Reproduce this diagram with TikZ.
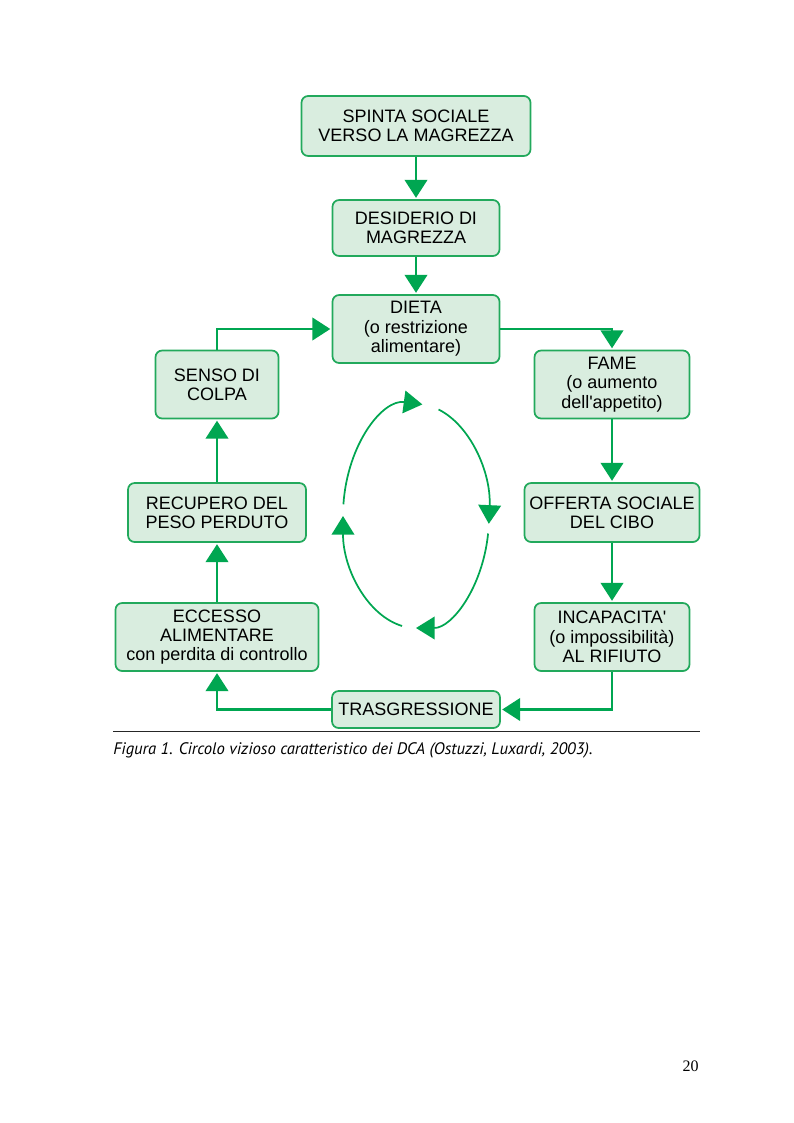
\documentclass[tikz,border=0pt]{standalone}
\usepackage{fontspec}
\setmainfont{Liberation Sans}
\newfontfamily\capfont{PT Sans}
\newfontfamily\numfont{Liberation Serif}
\usetikzlibrary{arrows.meta}
\definecolor{dcagreen}{HTML}{00A651}
\definecolor{dcafill}{HTML}{D9EDDF}
\definecolor{dcaline}{HTML}{22A95C}
\tikzset{
  dcabox/.style={draw=dcaline, fill=dcafill, line width=1.3pt, rounded corners=5pt,
    align=center, inner sep=1pt, font=\fontsize{13.5}{14.5}\selectfont},
  flow/.style={draw=dcagreen, line width=1.6pt, -{Triangle[length=13.5pt,width=17pt]}, shorten >=1pt},
  cyclearc/.style={draw=dcagreen, line width=1.3pt, -{Triangle[length=14pt,width=17pt]}}
}
\newcommand{\boxnode}[6]{\node[dcabox, minimum width={#4*0.75pt}, minimum height={#5*0.75pt}] (#1) at (#2,#3) {#6};}

\begin{document}
\begin{tikzpicture}[x=0.75pt,y=-0.75pt]
        \useasboundingbox (0,0) rectangle (793,1123);

        % centre column
        \boxnode{spinta}{416}{126}{229}{60}{SPINTA SOCIALE\\VERSO LA MAGREZZA}
        \boxnode{desiderio}{416}{228}{167}{56}{DESIDERIO DI\\MAGREZZA}
        \boxnode{dieta}{416}{329}{167}{68}{DIETA\\(o restrizione\\alimentare)}
        \boxnode{trasg}{416}{709.5}{168}{37}{TRASGRESSIONE}

        % left column
        \boxnode{senso}{217}{384.5}{123}{68}{SENSO DI\\COLPA}
        \boxnode{recupero}{217}{512.5}{178}{59}{RECUPERO DEL\\PESO PERDUTO}
        \boxnode{eccesso}{217}{637}{203}{68}{ECCESSO\\ALIMENTARE\\con perdita di controllo}

        % right column
        \boxnode{fame}{612}{384.5}{155}{68}{FAME\\(o aumento\\dell\textquotesingle appetito)}
        \boxnode{offerta}{612}{512.5}{175}{59}{OFFERTA SOCIALE\\DEL CIBO}
        \boxnode{incap}{612}{637}{155}{68}{INCAPACITA\textquotesingle\\(o impossibilità)\\AL RIFIUTO}

        % arrows
        \draw[flow] (spinta) -- (desiderio);
        \draw[flow] (desiderio) -- (dieta);
        \draw[flow] (dieta.east) -| (fame.north);
        \draw[flow] (fame) -- (offerta);
        \draw[flow] (offerta) -- (incap);
        \draw[flow] (incap.south) |- (trasg.east);
        \draw[flow] (trasg.west) -| (eccesso.south);
        \draw[flow] (eccesso) -- (recupero);
        \draw[flow] (recupero) -- (senso);
        \draw[flow] (senso.north) |- (dieta.west);

        % cycle in the middle
        \coordinate (mid) at (416,516);
        \draw[cyclearc] (mid) ++(186:73 and 112) arc[start angle=186, end angle=275, x radius=73, y radius=112];
        \draw[cyclearc] (mid) ++(288:73 and 112) arc[start angle=288, end angle=364, x radius=73, y radius=112];
        \draw[cyclearc] (mid) ++(9:73 and 112) arc[start angle=9, end angle=90, x radius=73, y radius=112];
        \draw[cyclearc] (mid) ++(101:73 and 112) arc[start angle=101, end angle=180, x radius=73, y radius=112];

        % caption
        \draw[line width=0.6pt, black!85] (113,731.5) -- (700,731.5);
        \node[anchor=base west, inner sep=0pt, font=\capfont\itshape\fontsize{12.5}{14}\selectfont] (caption) at (113,754)
          {Figura 1. Circolo vizioso caratteristico dei DCA (Ostuzzi, Luxardi, 2003).};
        \node[anchor=base east, inner sep=0pt, font=\numfont\fontsize{12}{14}\selectfont] (pagenum) at (699,1071) {20};
\end{tikzpicture}
\end{document}
